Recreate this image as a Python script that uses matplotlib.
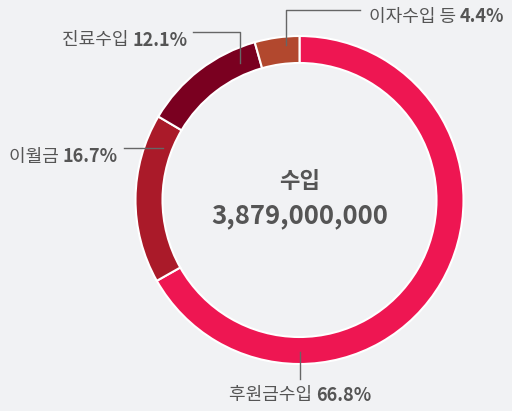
import matplotlib.pyplot as plt

plt.rcParams['font.family'] = ['Noto Sans CJK KR', 'DejaVu Sans']

labels = ['후원금수입', '이월금', '진료수입', '이자수입 등']
values = [66.8, 16.7, 12.1, 4.4]
colors = ['#EE1652', '#AA1A29', '#7A0020', '#B2482E']
total_label = '수입'
total_value = '3,879,000,000'

W, H = 512, 411
fig = plt.figure(figsize=(W / 100, H / 100), dpi=100)
fig.patch.set_facecolor('#F1F2F4')
ax = fig.add_axes([0, 0, 1, 1])

cx, cy, r = 299.5, H - 200, 164
ax.pie(values, colors=colors, startangle=90, counterclock=False,
       center=(cx, cy), radius=r, frame=True,
       wedgeprops=dict(width=27, edgecolor='white', linewidth=1.5))
ax.set_xlim(0, W)
ax.set_ylim(0, H)
ax.set_aspect('equal')
ax.axis('off')

txt = '#555555'
ln = '#666666'
fs = 13


def y(p):
    return H - p


# center text
ax.text(cx, y(182), total_label, ha='center', va='center', fontsize=16,
        fontweight='bold', color=txt)
ax.text(cx, y(216), total_value, ha='center', va='center', fontsize=18.5,
        fontweight='bold', color=txt)


def label(x, yy, name, pct):
    t = ax.text(x, y(yy), name + ' ', ha='left', va='center', fontsize=fs, color=txt)
    ax.annotate(f'{pct}%', xycoords=t, xy=(1, 0.5), ha='left', va='center',
                fontsize=fs, fontweight='bold', color=txt)


# 이자수입 등
ax.plot([286, 286, 360], [y(45), y(10), y(10)], color=ln, lw=1)
label(369, 17, labels[3], values[3])

# 진료수입
ax.plot([193, 240, 240], [y(32), y(32), y(63)], color=ln, lw=1)
label(62, 40, labels[2], values[2])

# 이월금
ax.plot([124, 163], [y(148), y(148)], color=ln, lw=1)
label(9, 157, labels[1], values[1])

# 후원금수입
ax.plot([299.5, 299.5], [y(352), y(379)], color=ln, lw=1)
label(229, 395, labels[0], values[0])

fig.savefig('out.png', dpi=100, facecolor=fig.get_facecolor())
